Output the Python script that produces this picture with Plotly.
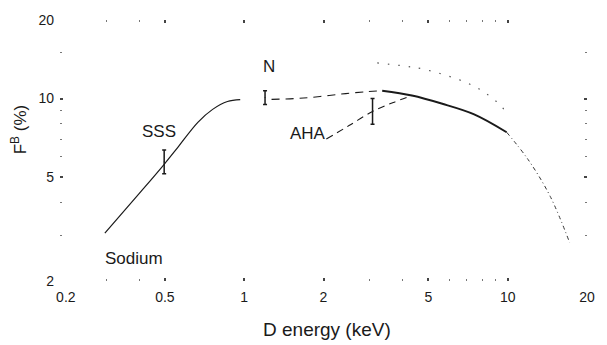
import math
import plotly.graph_objects as go

# Sodium curve, split into its drawn segments (energy in keV, F^B in %)
sodium_rise_x = [0.296, 0.40, 0.497, 0.561, 0.667, 0.759, 0.864, 0.966]
sodium_rise_y = [3.05, 4.33, 5.60, 6.52, 8.11, 9.09, 9.74, 9.91]

plateau_x = [1.27, 1.55, 1.77, 2.10, 2.43, 2.90, 3.34]
plateau_y = [9.93, 10.0, 10.09, 10.28, 10.45, 10.62, 10.72]

peak_x = [3.34, 4.33, 5.61, 7.46, 9.91]
peak_y = [10.72, 10.27, 9.57, 8.70, 7.43]

tail_x = [9.91, 11.98, 14.5, 17.2]
tail_y = [7.43, 5.82, 4.22, 2.80]

# AHA curve
aha_x = [2.05, 2.5, 3.07, 3.68, 4.33]
aha_y = [7.0, 7.88, 8.93, 9.66, 10.27]

# upper dotted curve
upper_x = [3.2, 4.01, 4.76, 6.55, 7.65, 8.49, 9.41, 10.1]
upper_y = [13.7, 13.34, 12.99, 11.8, 11.0, 10.27, 9.4, 8.55]

# measured points with error bars (SSS, N, AHA)
point_x = [0.497, 1.2, 3.07]
point_y = [5.73, 10.09, 8.93]
point_err_hi = [0.62, 0.63, 1.07]
point_err_lo = [0.58, 0.60, 0.96]

x_ticks = [0.2, 0.5, 1, 2, 5, 10, 20]
x_tick_text = ["\u00a0\u00a0\u00a00.2", "0.5", "1", "2", "5", "10", "20"]
x_minor = [0.3, 0.4, 3, 4, 6, 7, 8, 9]
y_ticks = [2, 5, 10, 20]
y_tick_text = ["2", "5", "10", "20"]
y_minor = [3, 4, 6, 7, 8, 9, 15]

INK = "#1a1a1a"
FONT = "Liberation Sans"

fig = go.Figure()

fig.add_trace(go.Scatter(x=sodium_rise_x, y=sodium_rise_y, mode="lines",
                         line=dict(color=INK, width=1.2, shape="spline")))
fig.add_trace(go.Scatter(x=plateau_x, y=plateau_y, mode="lines",
                         line=dict(color=INK, width=1.1, shape="spline", dash="8px,6px")))
fig.add_trace(go.Scatter(x=peak_x, y=peak_y, mode="lines",
                         line=dict(color=INK, width=2.0, shape="spline")))
fig.add_trace(go.Scatter(x=tail_x, y=tail_y, mode="lines",
                         line=dict(color="#333", width=1.0, shape="spline", dash="4px,3px,1px,3px")))
fig.add_trace(go.Scatter(x=aha_x, y=aha_y, mode="lines",
                         line=dict(color=INK, width=1.1, shape="spline", dash="7px,5px")))
fig.add_trace(go.Scatter(x=upper_x, y=upper_y, mode="lines",
                         line=dict(color="#555", width=1.2, shape="spline", dash="1.5px,9px")))

fig.add_trace(go.Scatter(
    x=point_x, y=point_y, mode="markers",
    marker=dict(size=1, color=INK),
    error_y=dict(type="data", symmetric=False, array=point_err_hi,
                 arrayminus=point_err_lo, color=INK, thickness=1.5, width=2),
))

labels = [
    ("Sodium", 135, 258),
    ("SSS", 160, 130),
    ("N", 272, 64),
    ("AHA", 311, 132),
]

def px_to_paper(px, py):
    return (px - 60) / 534, (281 - py) / 264

annotations = []
for text, px, py in labels:
    ax, ay = px_to_paper(px, py)
    annotations.append(dict(text=text, x=ax, y=ay, xref="paper", yref="paper",
                            showarrow=False, xanchor="center", yanchor="middle",
                            font=dict(family=FONT, size=17, color=INK)))

ax, ay = px_to_paper(331, 330)
annotations.append(dict(text="D energy (keV)", x=ax, y=ay, xref="paper", yref="paper",
                        showarrow=False, xanchor="center", yanchor="middle",
                        font=dict(family=FONT, size=19, color=INK)))
ax, ay = px_to_paper(18, 128)
annotations.append(dict(text="F<sup>B</sup> (%)", x=ax, y=ay, xref="paper", yref="paper",
                        showarrow=False, xanchor="center", yanchor="middle", textangle=-90,
                        font=dict(family=FONT, size=17, color=INK)))

axis_common = dict(
    type="log", showgrid=False, zeroline=False, showline=False,
    ticks="inside", ticklen=3, tickwidth=1.5, tickcolor="#444", mirror="ticks",
    tickfont=dict(family=FONT, size=14, color=INK),
)

fig.update_layout(
    width=607, height=345,
    margin=dict(l=60, r=13, t=17, b=64),
    paper_bgcolor="white", plot_bgcolor="white",
    showlegend=False,
    annotations=annotations,
    xaxis=dict(range=[math.log10(0.2), math.log10(20)], tickvals=x_ticks, ticktext=x_tick_text,
               ticklabelstandoff=6,
               minor=dict(tickvals=x_minor, ticks="inside", ticklen=2, tickwidth=1.2, tickcolor="#777"),
               **axis_common),
    yaxis=dict(range=[math.log10(2), math.log10(20)], tickvals=y_ticks, ticktext=y_tick_text,
               ticklabelstandoff=5,
               minor=dict(tickvals=y_minor, ticks="inside", ticklen=2, tickwidth=1.2, tickcolor="#777"),
               **axis_common),
)

fig.write_html("out.html")
